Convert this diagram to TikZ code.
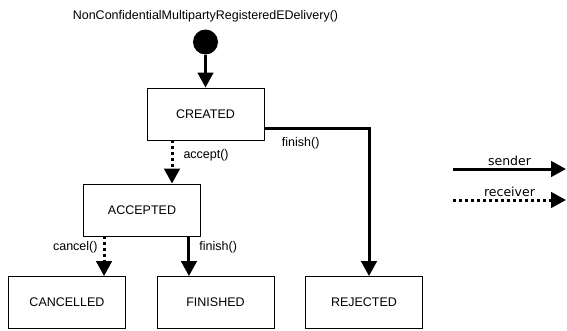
\documentclass[tikz,border=0pt]{standalone}
\usepackage{fontspec}
\setmainfont{Liberation Sans}
\newfontfamily\legendfont{DejaVu Sans}
\usetikzlibrary{arrows.meta,positioning}

\begin{document}
\begin{tikzpicture}[x=1pt,y=-1pt,node distance=96pt,font=\fontsize{12.5}{15}\selectfont,
  state/.style={rectangle,draw,line width=0.9pt,minimum width=117pt,minimum height=52pt},
  snd/.style={line width=3pt,-{Triangle[width=15.5pt,length=15pt]}},
  rcv/.style={snd,dash pattern=on 3pt off 3pt},
  lbl/.style={inner sep=1pt}]
\useasboundingbox (0,0) rectangle (567,330);
\node[state] (created) at (205.5,114) {CREATED};
\node[circle,fill,minimum size=25pt,inner sep=0pt,above of=created,yshift=-24pt] (init) {};
\node[above of=init,yshift=-70pt] (title) {NonConfidentialMultipartyRegisteredEDelivery()};
\node[state,below of=created,xshift=-63.5pt] (accepted) {ACCEPTED};
\node[state,below of=accepted,xshift=-75pt,yshift=3.5pt] (cancelled) {CANCELLED};
\node[state,below of=accepted,xshift=73.5pt,yshift=3.5pt] (finished) {FINISHED};
\node[state,right of=finished,xshift=52.5pt] (rejected) {REJECTED};

\draw[snd] (init) -- (created);
\draw[rcv] ([xshift=-33.5pt]created.south) -- ([xshift=-33.5pt]created.south |- accepted.north)
  node[lbl,pos=.35,right=9pt] {accept()};
\draw[snd] ([yshift=-14.5pt]created.east) -| ([xshift=5pt]rejected.north)
  node[lbl,pos=0,below right=6pt and 15pt] {finish()};
\draw[rcv] ([xshift=21pt]accepted.south west) -- ([xshift=21pt]accepted.south west |- cancelled.north)
  node[lbl,pos=.28,left=4pt] {cancel()};
\draw[snd] ([xshift=-12pt]accepted.south east) -- ([xshift=-12pt]accepted.south east |- finished.north)
  node[lbl,pos=.28,right=8pt] {finish()};

% legend
\coordinate (sndA) at (453,169);
\coordinate (sndB) at (566,169);
\coordinate (rcvA) at (453,200);
\coordinate (rcvB) at (566,200);
\draw[snd] (sndA) -- (sndB) node[lbl,midway,above=1pt,font=\legendfont\fontsize{12.5}{15}\selectfont] {sender};
\draw[rcv] (rcvA) -- (rcvB) node[lbl,midway,above=1pt,font=\legendfont\fontsize{12.5}{15}\selectfont] {receiver};
\end{tikzpicture}
\end{document}
